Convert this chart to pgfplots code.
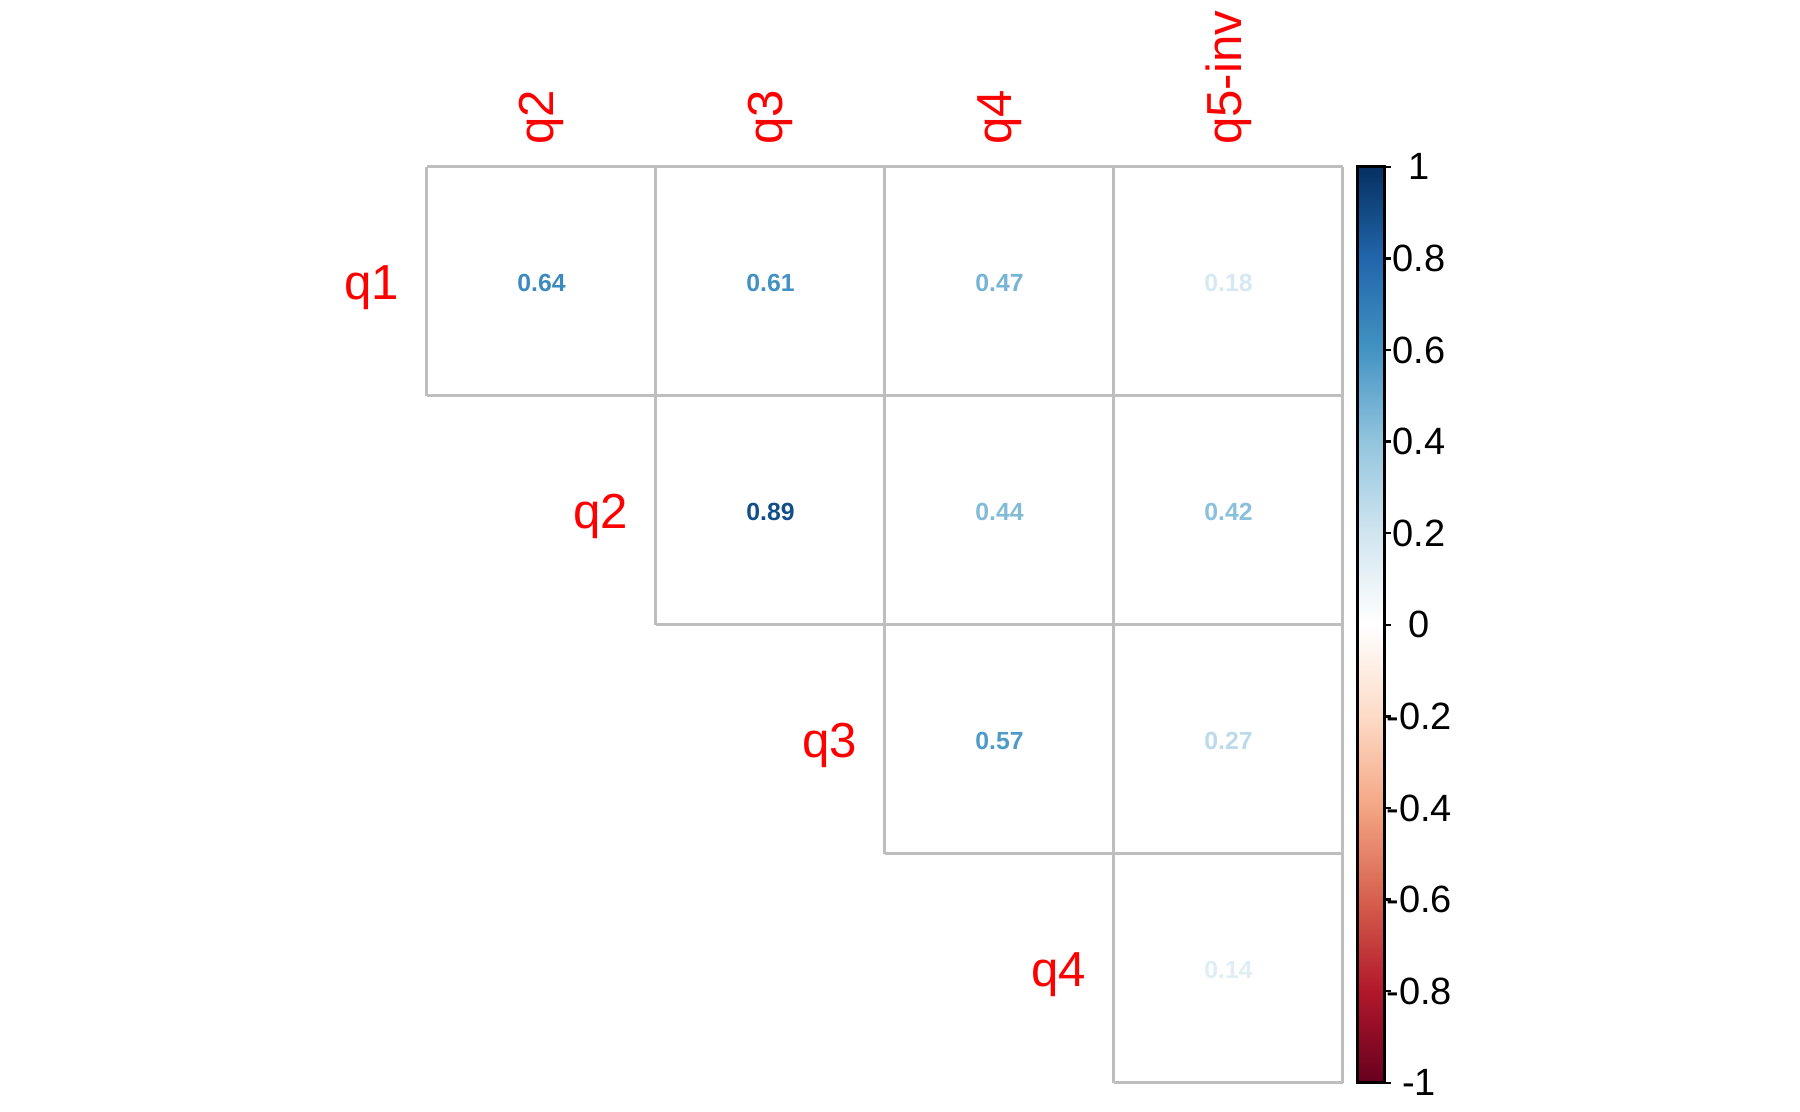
\documentclass[border=0pt]{standalone}
\usepackage{fontspec}
\setmainfont{Liberation Sans}
\usepackage{pgfplots}
\usepackage{pgfplotstable}
\pgfplotsset{compat=1.18}
\definecolor{c02}{HTML}{D1E5F0}
\definecolor{c04}{HTML}{92C5DE}
\definecolor{c06}{HTML}{4393C3}
\definecolor{c08}{HTML}{2166AC}
\definecolor{c10}{HTML}{053061}
\colorlet{v064}{c06!80!c08}
\colorlet{v061}{c06!95!c08}
\colorlet{v047}{c06!35!c04}
\colorlet{v018}{c02!90!white}
\colorlet{v089}{c10!45!c08}
\colorlet{v044}{c06!20!c04}
\colorlet{v042}{c06!10!c04}
\colorlet{v057}{c06!85!c04}
\colorlet{v027}{c04!35!c02}
\colorlet{v014}{c02!70!white}
\definecolor{gridgray}{HTML}{BEBEBE}

\pgfplotstableread{
x y label
0 3.5 q1
1 2.5 q2
2 1.5 q3
3 0.5 q4
}\rowlabels
\pgfplotstableread{
x y label
0.5 4 q2
1.5 4 q3
2.5 4 q4
3.5 4 q5-inv
}\collabels

% one correlation value: x, y, printed value, colour
\newcommand{\corrval}[4]{%
  \addplot[only marks, mark=none, forget plot,
    point meta=explicit symbolic,
    nodes near coords,
    every node near coord/.append style={anchor=center, text=#4, font=\fontsize{6.2}{6.2}\selectfont\bfseries, inner sep=0pt, yshift=-0.5pt},
  ] coordinates {(#1,#2) [#3]};}

\begin{document}
\begin{tikzpicture}
\begin{axis}[
  at={(0,0)}, anchor=south west,
  scale only axis, width=229pt, height=229pt,
  xmin=0, xmax=4, ymin=0, ymax=4,
  hide axis, clip=false,
  point meta min=-1, point meta max=1,
  colormap={rdbu}{rgb255=(103,0,31) rgb255=(178,24,43) rgb255=(214,96,77) rgb255=(244,165,130) rgb255=(253,219,199) rgb255=(255,255,255) rgb255=(209,229,240) rgb255=(146,197,222) rgb255=(67,147,195) rgb255=(33,102,172) rgb255=(5,48,97)},
  colorbar right,
  colorbar style={
    at={(parent axis.north east)}, anchor=north west, xshift=-5pt,
    scale only axis, width=6.75pt, height=229pt,
    ytick={-1,-0.8,-0.6,-0.4,-0.2,0,0.2,0.4,0.6,0.8,1},
    yticklabels={-1,-0.8,-0.6,-0.4,-0.2,0,0.2,0.4,0.6,0.8,1},
    ytick pos=right, yticklabel pos=right,
    tick align=outside,
    major tick length=1.75pt,
    tick style={black, line width=0.6pt},
    axis line style={black, line width=0.7pt},
    yticklabel style={font=\fontsize{9.5}{9.5}\selectfont, anchor=center, xshift=7pt, inner sep=0pt},
  },
]
% grid lines
\addplot[gridgray, line width=0.75pt, forget plot] coordinates {(0,4) (4,4)};
\addplot[gridgray, line width=0.75pt, forget plot] coordinates {(0,3) (4,3)};
\addplot[gridgray, line width=0.75pt, forget plot] coordinates {(1,2) (4,2)};
\addplot[gridgray, line width=0.75pt, forget plot] coordinates {(2,1) (4,1)};
\addplot[gridgray, line width=0.75pt, forget plot] coordinates {(3,0) (4,0)};
\addplot[gridgray, line width=0.75pt, forget plot] coordinates {(0,3) (0,4)};
\addplot[gridgray, line width=0.75pt, forget plot] coordinates {(1,2) (1,4)};
\addplot[gridgray, line width=0.75pt, forget plot] coordinates {(2,1) (2,4)};
\addplot[gridgray, line width=0.75pt, forget plot] coordinates {(3,0) (3,4)};
\addplot[gridgray, line width=0.75pt, forget plot] coordinates {(4,0) (4,4)};
% correlation numbers
\corrval{0.5}{3.5}{0.64}{v064}
\corrval{1.5}{3.5}{0.61}{v061}
\corrval{2.5}{3.5}{0.47}{v047}
\corrval{3.5}{3.5}{0.18}{v018}
\corrval{1.5}{2.5}{0.89}{v089}
\corrval{2.5}{2.5}{0.44}{v044}
\corrval{3.5}{2.5}{0.42}{v042}
\corrval{2.5}{1.5}{0.57}{v057}
\corrval{3.5}{1.5}{0.27}{v027}
\corrval{3.5}{0.5}{0.14}{v014}
% row labels
\addplot[only marks, mark=none, forget plot,
  point meta=explicit symbolic,
  nodes near coords,
  every node near coord/.append style={anchor=east, text=red, font=\fontsize{12.3}{12.3}\selectfont, inner sep=0pt, xshift=-6.75pt, yshift=-1.5pt},
] table[x=x, y=y, meta=label] {\rowlabels};
% column labels
\addplot[only marks, mark=none, forget plot,
  point meta=explicit symbolic,
  nodes near coords,
  every node near coord/.append style={anchor=west, rotate=90, text=red, font=\fontsize{12.3}{12.3}\selectfont, inner sep=0pt, xshift=5.25pt},
] table[x=x, y=y, meta=label] {\collabels};
\end{axis}
\pgfresetboundingbox
\path[use as bounding box] (-106.75pt,-7.3pt) rectangle (343.25pt,270.7pt);
\end{tikzpicture}
\end{document}
